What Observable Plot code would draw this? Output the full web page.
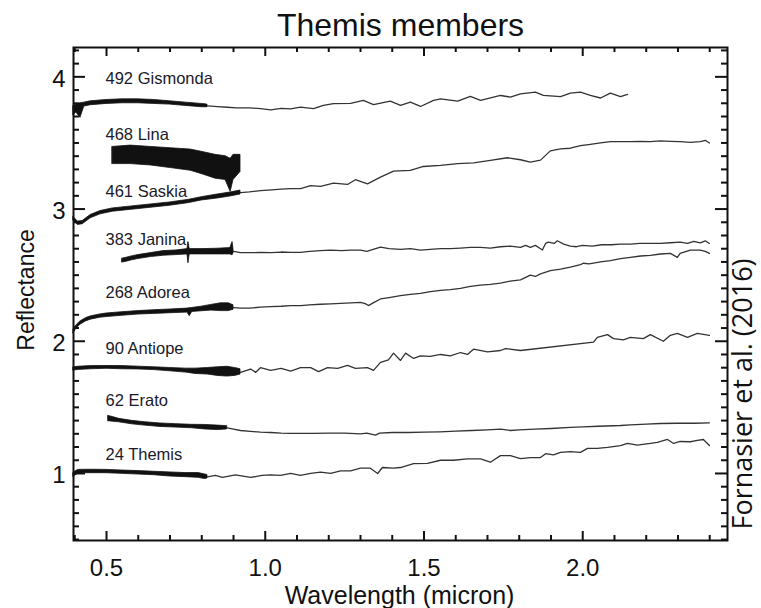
<!DOCTYPE html>
<html><head><meta charset="utf-8">
<script src="https://cdn.jsdelivr.net/npm/d3@7"></script>
<script src="https://cdn.jsdelivr.net/npm/@observablehq/plot@0.6"></script>
<style>body{margin:0;background:#fff}</style>
</head><body><div id="chart"></div>
<script>
// Asteroid names and label baselines (reflectance units)
const names = ["492 Gismonda","468 Lina","461 Saskia","383 Janina","268 Adorea","90 Antiope","62 Erato","24 Themis"];
const labelY = [3.948, 3.519, 3.090, 2.725, 2.324, 1.905, 1.507, 1.104];

// Visible spectra: [wavelength, lower envelope, upper envelope]
const gismondaVis = [[0.396,3.71,3.78],[0.405,3.73,3.79],[0.418,3.69,3.80],[0.43,3.775,3.805],[0.45,3.785,3.815],[0.50,3.795,3.825],[0.55,3.80,3.83],[0.60,3.80,3.83],[0.65,3.795,3.825],[0.70,3.79,3.815],[0.75,3.78,3.805],[0.80,3.77,3.795],[0.818,3.77,3.79]];
const linaVis = [[0.519,3.34,3.47],[0.576,3.34,3.48],[0.639,3.33,3.47],[0.702,3.31,3.46],[0.765,3.29,3.45],[0.806,3.26,3.43],[0.843,3.23,3.41],[0.875,3.22,3.40],[0.891,3.13,3.38],[0.90,3.22,3.41],[0.922,3.28,3.41]];
const saskiaVis = [[0.396,2.91,2.94],[0.41,2.88,2.905],[0.425,2.885,2.91],[0.45,2.93,2.955],[0.481,2.96,2.985],[0.52,2.98,3.005],[0.58,2.995,3.02],[0.64,3.01,3.035],[0.70,3.025,3.05],[0.76,3.045,3.07],[0.80,3.065,3.09],[0.85,3.08,3.11],[0.89,3.095,3.125],[0.922,3.11,3.14]];
const janinaVis = [[0.55,2.595,2.625],[0.56,2.60,2.63],[0.58,2.612,2.642],[0.60,2.622,2.652],[0.64,2.637,2.667],[0.68,2.647,2.682],[0.72,2.652,2.687],[0.755,2.657,2.697],[0.758,2.59,2.75],[0.762,2.657,2.697],[0.80,2.657,2.697],[0.85,2.657,2.70],[0.89,2.657,2.705],[0.897,2.65,2.75],[0.90,2.665,2.695]];
const adoreaVis = [[0.396,2.06,2.09],[0.405,2.095,2.12],[0.418,2.125,2.15],[0.435,2.15,2.175],[0.45,2.163,2.188],[0.48,2.178,2.203],[0.50,2.183,2.21],[0.55,2.193,2.22],[0.60,2.202,2.228],[0.65,2.207,2.235],[0.70,2.212,2.24],[0.755,2.217,2.247],[0.762,2.19,2.25],[0.77,2.222,2.252],[0.80,2.227,2.262],[0.83,2.232,2.275],[0.86,2.228,2.287],[0.885,2.228,2.287],[0.90,2.238,2.272]];
const antiopeVis = [[0.396,1.778,1.802],[0.41,1.783,1.807],[0.45,1.788,1.812],[0.50,1.792,1.813],[0.55,1.788,1.812],[0.60,1.787,1.808],[0.65,1.782,1.803],[0.70,1.773,1.798],[0.75,1.763,1.793],[0.78,1.753,1.793],[0.82,1.748,1.798],[0.85,1.738,1.803],[0.88,1.733,1.807],[0.905,1.738,1.798],[0.922,1.748,1.788]];
const eratoVis = [[0.506,1.395,1.435],[0.52,1.392,1.427],[0.54,1.387,1.413],[0.58,1.372,1.398],[0.62,1.362,1.388],[0.67,1.352,1.378],[0.72,1.347,1.373],[0.77,1.342,1.368],[0.81,1.333,1.367],[0.85,1.328,1.362],[0.88,1.333,1.358]];
const themisVis = [[0.396,0.975,1.005],[0.41,0.998,1.027],[0.43,1.002,1.028],[0.47,1.002,1.028],[0.50,1.002,1.027],[0.55,0.997,1.022],[0.60,0.992,1.018],[0.65,0.987,1.013],[0.70,0.977,1.008],[0.75,0.972,1.003],[0.79,0.967,1.003],[0.81,0.958,0.993],[0.818,0.962,0.988]];

// Near-infrared spectra: [wavelength, reflectance]
const gismondaNir = [[0.818,3.78],[0.85,3.775],[0.88,3.77],[0.91,3.765],[0.95,3.765],[0.985,3.76],[1.017,3.75],[1.05,3.762],[1.08,3.758],[1.111,3.771],[1.152,3.759],[1.183,3.784],[1.215,3.797],[1.269,3.80],[1.309,3.822],[1.341,3.79],[1.394,3.816],[1.426,3.784],[1.457,3.809],[1.489,3.776],[1.53,3.822],[1.552,3.834],[1.606,3.816],[1.646,3.852],[1.678,3.822],[1.741,3.859],[1.772,3.847],[1.804,3.872],[1.851,3.884],[1.876,3.86],[1.93,3.85],[1.961,3.877],[1.993,3.884],[2.024,3.86],[2.056,3.84],[2.087,3.877],[2.119,3.85],[2.141,3.867]];
const saskiaNir = [[0.922,3.125],[0.95,3.13],[0.985,3.14],[1.02,3.145],[1.05,3.15],[1.08,3.155],[1.111,3.154],[1.143,3.178],[1.174,3.171],[1.215,3.196],[1.259,3.186],[1.284,3.222],[1.322,3.191],[1.363,3.241],[1.404,3.287],[1.457,3.292],[1.498,3.322],[1.552,3.33],[1.606,3.343],[1.656,3.35],[1.709,3.368],[1.763,3.388],[1.804,3.373],[1.835,3.355],[1.867,3.37],[1.898,3.44],[1.93,3.455],[1.961,3.46],[1.993,3.48],[2.024,3.49],[2.056,3.50],[2.087,3.51],[2.119,3.51],[2.15,3.51],[2.182,3.512],[2.213,3.51],[2.245,3.515],[2.276,3.512],[2.307,3.51],[2.339,3.505],[2.37,3.51],[2.386,3.52],[2.399,3.50]];
const janinaNir = [[0.90,2.68],[0.922,2.67],[0.95,2.67],[0.985,2.672],[1.02,2.67],[1.05,2.675],[1.08,2.672],[1.111,2.672],[1.14,2.68],[1.174,2.685],[1.206,2.69],[1.24,2.685],[1.27,2.69],[1.30,2.69],[1.32,2.68],[1.34,2.695],[1.363,2.712],[1.39,2.70],[1.426,2.695],[1.457,2.70],[1.489,2.69],[1.52,2.695],[1.552,2.70],[1.583,2.70],[1.615,2.705],[1.646,2.71],[1.678,2.71],[1.709,2.705],[1.741,2.715],[1.772,2.72],[1.804,2.71],[1.82,2.725],[1.835,2.71],[1.851,2.725],[1.867,2.70],[1.873,2.69],[1.883,2.74],[1.892,2.75],[1.91,2.74],[1.92,2.76],[1.94,2.735],[1.961,2.72],[1.98,2.715],[2.00,2.725],[2.03,2.72],[2.06,2.73],[2.09,2.73],[2.119,2.735],[2.15,2.735],[2.18,2.74],[2.213,2.74],[2.245,2.74],[2.276,2.745],[2.307,2.75],[2.33,2.74],[2.35,2.755],[2.37,2.745],[2.386,2.76],[2.399,2.74]];
const adoreaNir = [[0.90,2.255],[0.922,2.25],[0.95,2.25],[0.985,2.258],[1.017,2.262],[1.05,2.265],[1.08,2.27],[1.111,2.27],[1.14,2.275],[1.174,2.28],[1.206,2.283],[1.237,2.286],[1.27,2.29],[1.30,2.294],[1.315,2.285],[1.325,2.27],[1.34,2.29],[1.363,2.32],[1.39,2.33],[1.426,2.345],[1.457,2.355],[1.489,2.362],[1.52,2.375],[1.552,2.385],[1.583,2.39],[1.615,2.40],[1.646,2.415],[1.678,2.425],[1.709,2.43],[1.741,2.44],[1.772,2.455],[1.804,2.465],[1.835,2.50],[1.851,2.49],[1.867,2.51],[1.898,2.535],[1.93,2.545],[1.961,2.56],[1.993,2.58],[2.002,2.59],[2.02,2.585],[2.056,2.60],[2.087,2.61],[2.119,2.625],[2.15,2.635],[2.182,2.645],[2.213,2.65],[2.245,2.66],[2.276,2.665],[2.298,2.635],[2.307,2.665],[2.339,2.69],[2.37,2.69],[2.386,2.68],[2.399,2.665]];
const antiopeNir = [[0.922,1.765],[0.954,1.79],[0.97,1.765],[0.985,1.80],[1.017,1.78],[1.05,1.795],[1.08,1.775],[1.111,1.80],[1.143,1.80],[1.168,1.77],[1.196,1.80],[1.228,1.795],[1.259,1.817],[1.284,1.795],[1.322,1.80],[1.341,1.78],[1.363,1.84],[1.388,1.86],[1.404,1.91],[1.426,1.855],[1.442,1.91],[1.467,1.87],[1.489,1.89],[1.52,1.885],[1.552,1.90],[1.583,1.89],[1.615,1.915],[1.637,1.90],[1.656,1.94],[1.70,1.92],[1.741,1.93],[1.757,1.945],[1.804,1.93],[2.034,1.993],[2.046,2.03],[2.078,2.05],[2.097,2.02],[2.128,2.01],[2.15,2.03],[2.191,2.02],[2.213,2.05],[2.254,2.00],[2.276,2.045],[2.298,2.06],[2.33,2.03],[2.361,2.06],[2.399,2.045]];
const eratoNir = [[0.88,1.345],[0.90,1.335],[0.922,1.325],[0.954,1.318],[0.985,1.312],[1.017,1.31],[1.05,1.305],[1.08,1.303],[1.111,1.303],[1.15,1.303],[1.20,1.305],[1.25,1.305],[1.30,1.30],[1.32,1.305],[1.347,1.29],[1.36,1.305],[1.40,1.31],[1.45,1.31],[1.50,1.312],[1.55,1.315],[1.60,1.32],[1.65,1.325],[1.70,1.33],[1.741,1.335],[1.772,1.325],[1.80,1.33],[1.85,1.335],[1.90,1.34],[1.961,1.348],[2.00,1.352],[2.05,1.357],[2.119,1.363],[2.15,1.368],[2.20,1.374],[2.245,1.378],[2.30,1.38],[2.35,1.38],[2.399,1.383]];
const themisNir = [[0.818,0.975],[0.843,0.985],[0.865,0.97],[0.906,0.99],[0.954,0.97],[0.99,0.985],[1.017,0.99],[1.048,0.985],[1.08,1.00],[1.111,0.985],[1.143,1.00],[1.174,1.01],[1.206,1.00],[1.237,1.02],[1.269,1.02],[1.30,1.04],[1.331,1.04],[1.354,1.00],[1.369,1.045],[1.404,1.04],[1.426,1.045],[1.467,1.075],[1.511,1.077],[1.552,1.10],[1.593,1.10],[1.637,1.11],[1.678,1.11],[1.709,1.085],[1.741,1.135],[1.772,1.135],[1.804,1.113],[1.835,1.12],[1.867,1.12],[1.883,1.15],[1.908,1.14],[1.93,1.16],[1.961,1.165],[1.993,1.16],[2.015,1.19],[2.046,1.19],[2.078,1.197],[2.119,1.21],[2.141,1.227],[2.172,1.215],[2.213,1.227],[2.235,1.235],[2.267,1.257],[2.286,1.227],[2.307,1.242],[2.339,1.24],[2.361,1.25],[2.38,1.257],[2.399,1.212]];

// Axis ticks
const xMajor = [0.5, 1.0, 1.5, 2.0];
const xMinor = [0.4,0.6,0.7,0.8,0.9,1.1,1.2,1.3,1.4,1.6,1.7,1.8,1.9,2.1,2.2,2.3,2.4];
const yMajor = [1, 2, 3, 4];
const yMinor = [0.5,0.6,0.7,0.8,0.9,1.1,1.2,1.3,1.4,1.5,1.6,1.7,1.8,1.9,2.1,2.2,2.3,2.4,2.5,2.6,2.7,2.8,2.9,3.1,3.2,3.3,3.4,3.5,3.6,3.7,3.8,3.9,4.1,4.2];

const visSets = [gismondaVis, linaVis, saskiaVis, janinaVis, adoreaVis, antiopeVis, eratoVis, themisVis];
const nirSets = [gismondaNir, null, saskiaNir, janinaNir, adoreaNir, antiopeNir, eratoNir, themisNir];

const visRows = visSets.flatMap((s, i) => s.map(([x, lo, hi]) => ({name: names[i], x, lo, hi})));
const nirRows = nirSets.flatMap((s, i) => s ? s.map(([x, y]) => ({name: names[i], x, y})) : []);
const labelRows = names.map((n, i) => ({name: n, y: labelY[i]}));

const W = 761, H = 608;
const mL = 73, mR = 34, mT = 47, mB = 68;
const fw = W - mL - mR, fh = H - mT - mB;
const ink = "#111";

const chart = Plot.plot({
  width: W, height: H,
  marginLeft: mL, marginRight: mR, marginTop: mT, marginBottom: mB,
  style: {fontFamily: "'Liberation Sans', Arial, Helvetica, sans-serif", background: "#fff", overflow: "visible"},
  x: {domain: [0.396, 2.456], axis: null},
  y: {domain: [0.493, 4.222], axis: null},
  marks: [
    Plot.line(nirRows, {x: "x", y: "y", z: "name", stroke: "#333", strokeWidth: 1.3, strokeLinejoin: "round"}),
    Plot.areaY(visRows, {x: "x", y1: "lo", y2: "hi", z: "name", fill: ink, stroke: ink, strokeWidth: 0.8}),
    Plot.text(labelRows, {x: () => 0.5, y: "y", text: "name", textAnchor: "start", lineAnchor: "bottom", dx: -1, fontSize: 16.5, fill: "#1a1a2a"}),
    // ticks bottom/top
    Plot.ruleX(xMajor, {x: d => d, insetTop: fh - 9, stroke: ink, strokeWidth: 2}),
    Plot.ruleX(xMinor, {x: d => d, insetTop: fh - 5, stroke: ink, strokeWidth: 2}),
    Plot.ruleX(xMajor, {x: d => d, insetBottom: fh - 9, stroke: ink, strokeWidth: 2}),
    Plot.ruleX(xMinor, {x: d => d, insetBottom: fh - 5, stroke: ink, strokeWidth: 2}),
    // ticks left/right
    Plot.ruleY(yMajor, {y: d => d, insetRight: fw - 12, stroke: ink, strokeWidth: 2}),
    Plot.ruleY(yMinor, {y: d => d, insetRight: fw - 6, stroke: ink, strokeWidth: 2}),
    Plot.ruleY(yMajor, {y: d => d, insetLeft: fw - 12, stroke: ink, strokeWidth: 2}),
    Plot.ruleY(yMinor, {y: d => d, insetLeft: fw - 6, stroke: ink, strokeWidth: 2}),
    Plot.frame({stroke: ink, strokeWidth: 2}),
    // tick labels
    Plot.text(xMajor, {x: d => d, text: d => d3.format(".1f")(d), frameAnchor: "bottom", lineAnchor: "bottom", dy: 35, fontSize: 24, fill: ink}),
    Plot.text(yMajor, {y: d => d, text: d => String(d), frameAnchor: "left", textAnchor: "end", lineAnchor: "middle", dx: -8, dy: 2, fontSize: 24, fill: ink}),
    // titles
    Plot.text(["Themis members"], {text: d => d, frameAnchor: "top", textAnchor: "middle", lineAnchor: "bottom", dy: -12, fontSize: 32, fill: ink}),
    Plot.text(["Wavelength (micron)"], {text: d => d, frameAnchor: "bottom", textAnchor: "middle", lineAnchor: "bottom", dy: 63, dx: -1, fontSize: 25, fill: ink}),
    Plot.text(["Reflectance"], {text: d => d, frameAnchor: "left", textAnchor: "middle", lineAnchor: "bottom", rotate: -90, dx: -40, dy: -4, fontSize: 23, fill: ink}),
    Plot.text(["Fornasier et al. (2016)"], {text: d => d, frameAnchor: "right", textAnchor: "middle", lineAnchor: "bottom", rotate: -90, dx: 24, dy: 100, fontSize: 27, fontFamily: "'Open Sans', sans-serif", fill: ink})
  ]
});
document.getElementById("chart").appendChild(chart);
</script>
</body></html>
